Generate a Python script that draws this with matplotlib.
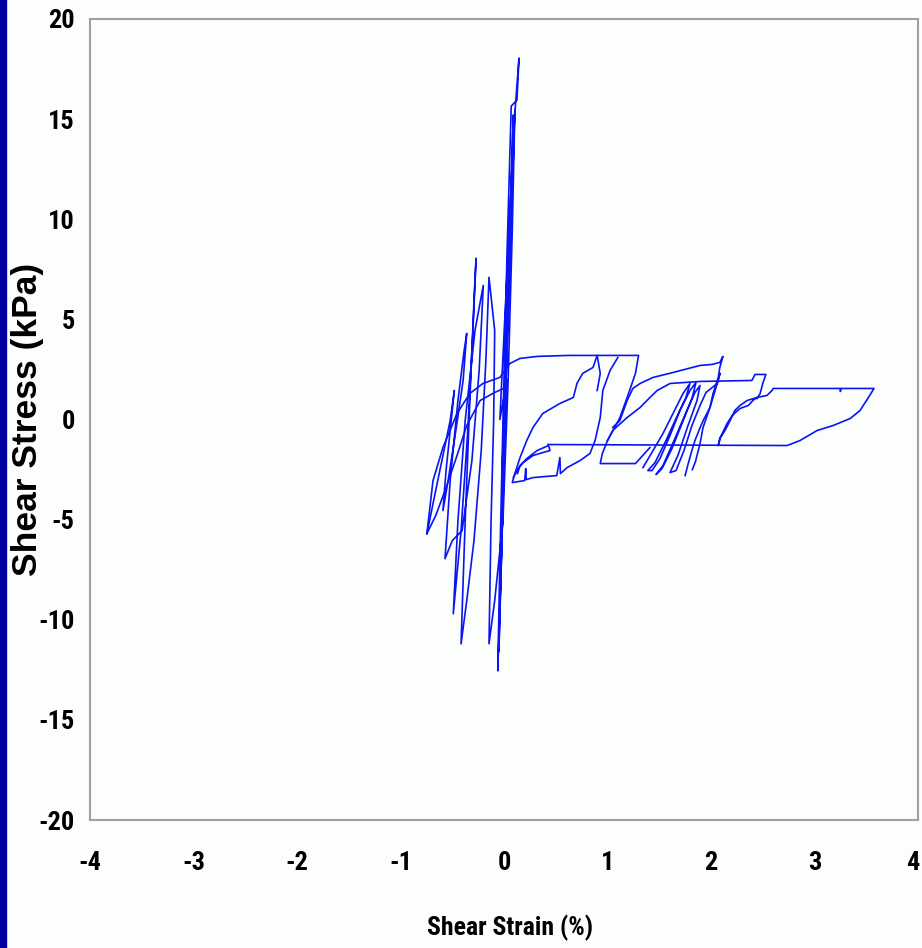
import matplotlib
matplotlib.use("Agg")
import matplotlib.pyplot as plt
import matplotlib.transforms as mtransforms
from matplotlib.patches import Rectangle

plt.rcParams["axes.unicode_minus"] = False

# near-zero spikes (strain %, stress kPa)
spike_strain = [-0.02, 0.03, 0.07, 0.09, 0.05, 0.0, -0.03, -0.05, -0.01, 0.03,
                -0.04, 0.04, 0.10, 0.145, 0.125, 0.07, 0.03, -0.01, -0.04, -0.06,
                -0.02, 0.02, 0.07, 0.105, 0.08, 0.04, -0.01, -0.09, -0.145,
                -0.125, -0.10, -0.09, -0.145, -0.175, -0.22, -0.29, -0.36, -0.415,
                -0.375, -0.33, -0.29, -0.27, -0.30, -0.35, -0.415, -0.49,
                -0.445, -0.375, -0.28, -0.20, -0.24, -0.31, -0.405, -0.50, -0.57,
                -0.52, -0.445, -0.385, -0.36, -0.395, -0.465, -0.54, -0.59,
                -0.56, -0.52, -0.48, -0.52, -0.58, -0.66, -0.745]
spike_stress = [-3.0, 5.0, 12.0, 15.2, 8.0, -2.0, -8.0, -11.6, -4.0, 2.0,
                0.0, 8.45, 14.95, 18.05, 15.95, 15.65, 8.45, -0.05, -7.05, -12.55,
                -6.05, 1.95, 9.95, 15.45, 9.45, 1.95, -5.05, -9.05, -11.2,
                -5.05, -0.05, 4.45, 7.1, 2.95, -1.55, -6.05, -9.05, -11.2,
                -5.05, 0.95, 5.95, 8.05, 4.45, -0.55, -5.55, -9.7,
                -5.05, -0.05, 4.45, 6.7, 2.45, -2.05, -5.55, -6.05, -6.95,
                -3.05, 0.95, 3.45, 4.3, 1.95, -0.55, -3.05, -4.55,
                -2.55, -0.55, 1.45, -0.05, -1.55, -3.55, -5.7]

# first excursion: left tip -> top line -> drop
exc1_strain = [-0.745, -0.686, -0.59, -0.454, -0.33, -0.203, -0.04, 0.058, 0.155, 0.32,
               0.62, 0.90, 1.30, 1.27, 1.19, 1.12, 1.07, 1.0, 0.95, 0.93,
               1.12, 1.27, 1.34, 1.41]
exc1_stress = [-5.7, -3.05, -1.4, 0.3, 1.3, 1.8, 2.1, 2.8, 3.05, 3.15,
               3.2, 3.2, 3.2, 2.3, 1.1, 0.1, -0.4, -1.05, -1.7, -2.2,
               -2.2, -2.2, -1.8, -1.4]

left_strain = [-0.745, -0.66, -0.57, -0.47, -0.36, -0.23, -0.09, 0.02]
left_stress = [-5.7, -4.8, -3.55, -2.05, -0.3, 0.95, 1.35, 1.6]

# return path of first loop
ret1_strain = [0.90, 0.93, 0.90, 0.86, 0.76, 0.705, 0.67, 0.54, 0.375, 0.28, 0.22,
               0.155, 0.105, 0.08, 0.20, 0.21, 0.215, 0.28, 0.51, 0.54, 0.545,
               0.61, 0.735, 0.83, 0.88, 0.93, 0.955, 1.025, 1.10]
ret1_stress = [1.45, 2.3, 3.2, 2.6, 2.3, 1.8, 1.1, 0.8, 0.3, -0.4, -1.05,
               -1.9, -2.7, -3.15, -3.05, -2.45, -3.0, -2.9, -2.8, -1.9, -2.7,
               -2.4, -2.05, -1.7, -1.05, 0.1, 1.45, 2.45, 3.1]

small_strain = [0.09, 0.135, 0.185, 0.28, 0.375, 0.445, 0.43, 0.32, 0.22, 0.155, 0.13]
small_stress = [-2.9, -2.45, -2.15, -1.8, -1.65, -1.55, -1.3, -1.55, -1.95, -2.3, -2.7]

# largest excursion
big_strain = [0.425, 2.735, 2.86, 3.025, 3.18, 3.345, 3.44, 3.515, 3.575, 3.255, 3.25,
              3.25, 2.60, 2.59, 2.54, 2.445, 2.35, 2.28, 2.23, 2.185, 2.135, 2.085,
              2.07, 2.09, 2.155, 2.205, 2.28, 2.36, 2.405, 2.445]
big_stress = [-1.25, -1.3, -1.05, -0.55, -0.3, 0.05, 0.45, 1.05, 1.55, 1.55, 1.4,
              1.55, 1.55, 1.45, 1.2, 1.1, 0.95, 0.7, 0.45, -0.05, -0.55, -0.95,
              -1.3, -0.9, -0.2, 0.2, 0.55, 0.7, 0.95, 1.1]

top3_strain = [1.05, 1.12, 1.19, 1.245, 1.315, 1.44, 1.635, 1.895, 2.01, 2.085, 2.115,
               2.085, 2.07, 2.02, 1.99, 1.925, 1.895, 1.845, 1.815, 1.78, 1.75]
top3_stress = [-0.4, -0.05, 0.95, 1.55, 1.8, 2.1, 2.35, 2.7, 2.75, 2.85, 3.15,
               2.6, 2.1, 1.3, 0.6, -0.05, -0.4, -1.05, -1.55, -2.2, -2.8]

top2_strain = [1.0, 1.05, 1.19, 1.315, 1.41, 1.48, 1.605, 1.895, 2.395, 2.425, 2.53,
               2.50, 2.475, 2.445]
top2_stress = [-1.05, -0.55, 0.1, 0.6, 1.1, 1.45, 1.8, 1.9, 1.95, 2.25, 2.25,
               1.8, 1.3, 1.05]

cluster_strain = [1.343, 1.44, 1.536, 1.633, 1.73, 1.797, 1.758, 1.662, 1.556, 1.459,
                  1.39, 1.43, 1.507, 1.604, 1.70, 1.797, 1.855, 1.816, 1.72, 1.623,
                  1.527, 1.469, 1.536, 1.643, 1.758, 1.845, 1.894, 1.865, 1.778, 1.68,
                  1.604, 1.662, 1.739, 1.816, 1.894, 1.952, 2.06, 2.087, 2.06, 1.99,
                  1.923, 1.894, 1.85, 1.82]
cluster_stress = [-2.4, -1.55, -0.7, 0.3, 1.3, 1.8, 1.1, 0.05, -1.15, -2.15,
                  -2.55, -2.55, -1.95, -0.8, 0.45, 1.45, 1.85, 1.05, -0.2, -1.45,
                  -2.45, -2.75, -2.3, -1.05, 0.35, 1.35, 1.7, 0.95, -0.3, -1.8,
                  -2.65, -2.55, -1.55, -0.3, 0.7, 1.35, 1.8, 2.3, 1.8, 0.6,
                  -0.4, -1.2, -2.1, -2.5]

x_ticks = [-4, -3, -2, -1, 0, 1, 2, 3, 4]
y_ticks = [-20, -15, -10, -5, 0, 5, 10, 15, 20]

narrow = ["Liberation Sans Narrow", "Roboto Condensed", "DejaVu Sans Condensed",
          "Liberation Sans"]
bold_font = ["Liberation Sans", "DejaVu Sans"]

fig = plt.figure(figsize=(9.22, 9.48), dpi=100, facecolor="#fcfefc")
fig.patches.append(Rectangle((0, 0), 6 / 922, 1, transform=fig.transFigure,
                             color="#0000a0", zorder=0))
ax = fig.add_axes([90 / 922, 1 - 820 / 948, 828 / 922, 801 / 948])
ax.set_facecolor("#fcfefc")

c = "#0a14f5"
for xs, ys in [(spike_strain, spike_stress), (exc1_strain, exc1_stress),
               (left_strain, left_stress), (ret1_strain, ret1_stress),
               (small_strain, small_stress), (big_strain, big_stress),
               (top3_strain, top3_stress), (top2_strain, top2_stress),
               (cluster_strain, cluster_stress)]:
    ax.plot(xs, ys, color=c, lw=1.2)

ax.set_xlim(-4, 4)
ax.set_ylim(-20, 20)
ax.set_xticks(x_ticks)
ax.set_yticks(y_ticks)
ax.set_xticklabels([str(t) for t in x_ticks], family=narrow, weight="bold", fontsize=19)
ax.set_yticklabels([str(t) for t in y_ticks], family=narrow, weight="bold", fontsize=19)
ax.tick_params(axis="both", length=0)
ax.tick_params(axis="x", pad=22)
ax.tick_params(axis="y", pad=11)
for s in ax.spines.values():
    s.set_color("#a0a0a0")
    s.set_linewidth(1.5)

# last x label sits at the figure edge; nudge it inward a little
last = ax.get_xticklabels()[-1]
last.set_transform(last.get_transform() +
                   mtransforms.ScaledTranslation(-5 / 100, 0, fig.dpi_scale_trans))

ax.set_xlabel("Shear Strain (%)", family=narrow, weight="bold", fontsize=18.5)
ax.xaxis.set_label_coords((510 - 90) / 828, (820 - 928) / 801)
ax.xaxis.label.set_va("center")
ax.set_ylabel("Shear Stress (kPa)", family=bold_font, weight="bold", fontsize=25.5)
ax.yaxis.set_label_coords((28 - 90) / 828, 0.5)
ax.yaxis.label.set_va("center")

fig.savefig("out.png", dpi=100, facecolor=fig.get_facecolor())
